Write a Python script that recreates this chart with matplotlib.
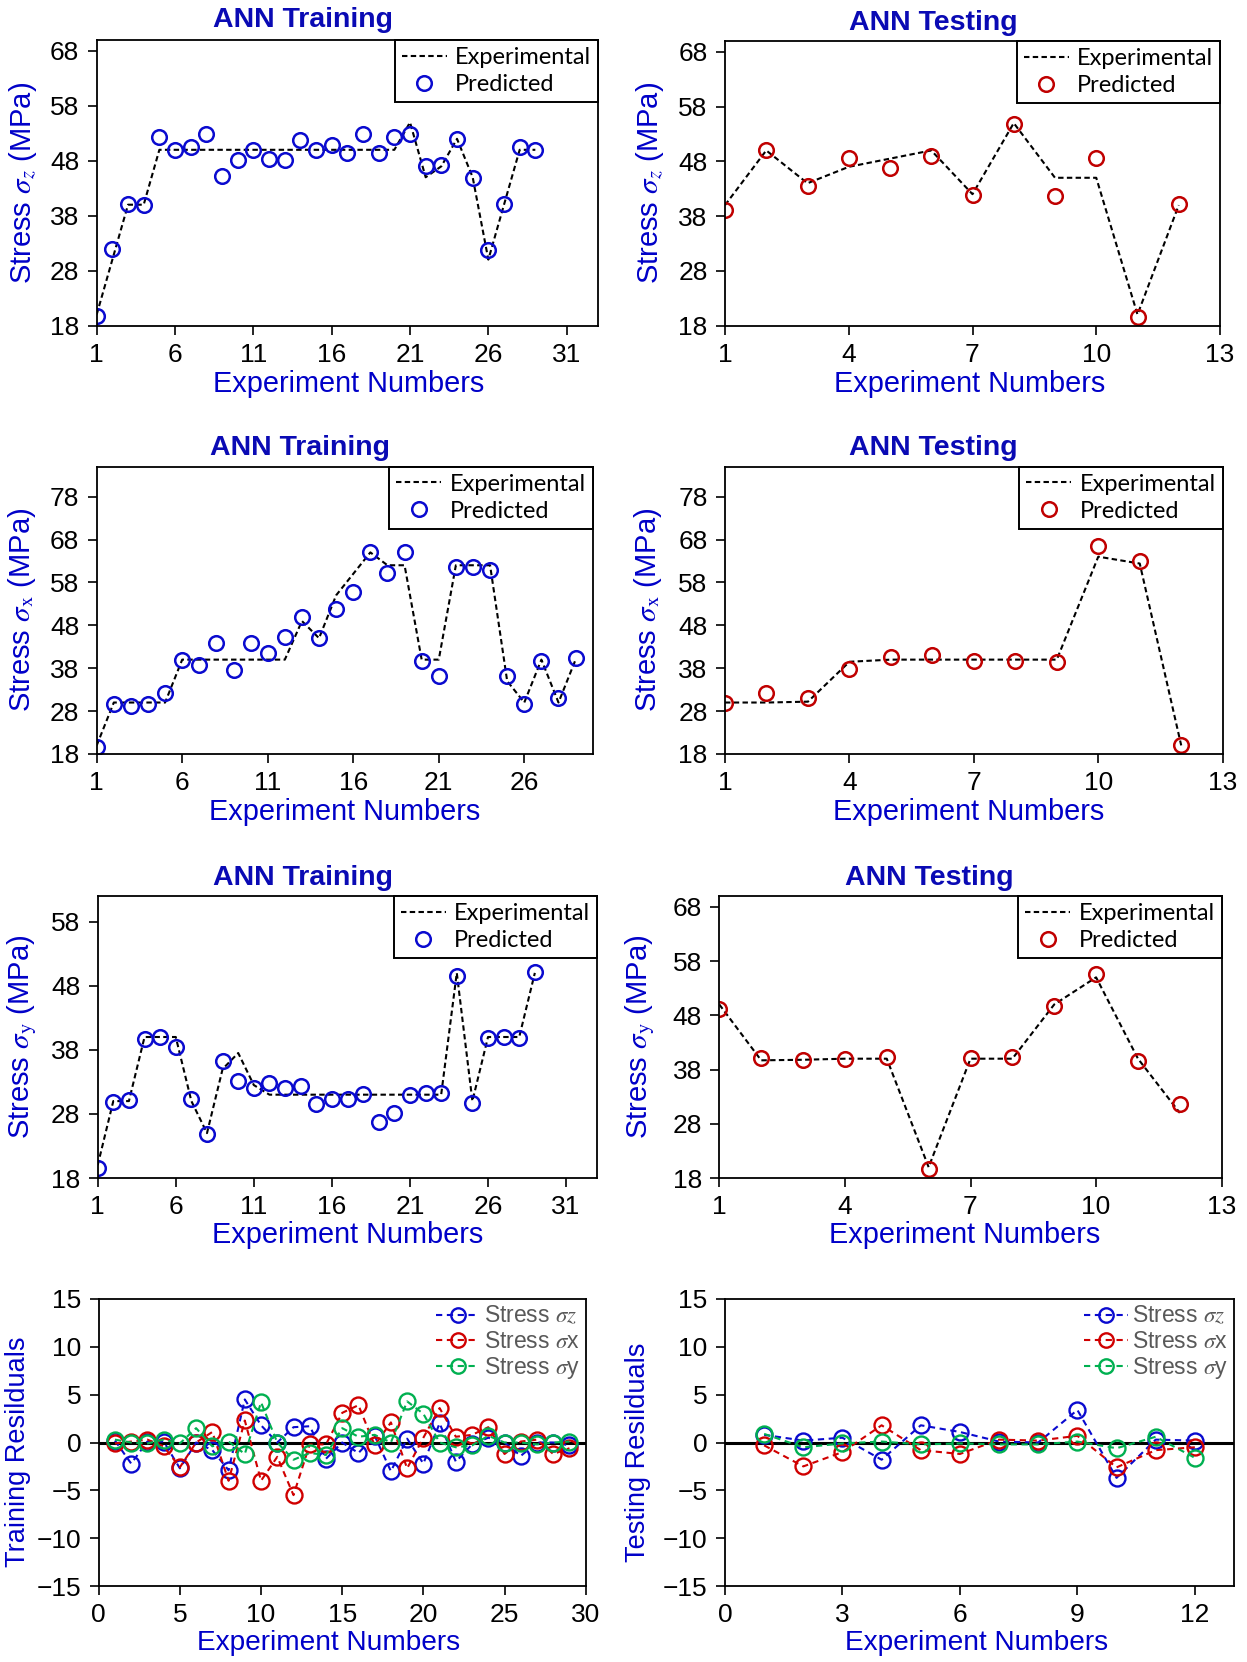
import matplotlib
matplotlib.use("Agg")
import matplotlib.pyplot as plt

plt.rcParams['font.family'] = ['Liberation Sans', 'DejaVu Sans']
plt.rcParams['mathtext.fontset'] = 'stix'

# ---------------- data ----------------
train_x = list(range(1, 30))
test_x = list(range(1, 13))

# sigma_z
train_sz_exp = [20, 30, 40, 40, 50, 50, 50, 50, 50, 50, 50, 50, 50, 50, 50,
                50, 50, 50, 50, 50, 55, 45, 47, 52, 45, 30, 40, 50, 50]
train_sz_pred = [19.8, 31.9, 40.2, 39.9, 52.3, 50.0, 50.5, 52.9, 45.2, 48.1,
                 49.9, 48.3, 48.1, 51.7, 49.9, 50.9, 49.4, 52.9, 49.4, 52.3,
                 52.9, 47.1, 47.3, 52.0, 44.9, 31.7, 40.2, 50.5, 50.0]
test_sz_exp = [40, 50, 44, 47, 48.5, 50, 42, 55, 45, 45, 20, 40]
test_sz_pred = [39.2, 50.0, 43.5, 48.6, 46.8, 48.9, 41.9, 54.8, 41.7, 48.7, 19.6, 40.2]

# sigma_x
train_sx_exp = [20, 30, 30, 30, 30, 40, 40, 40, 40, 40, 40, 40, 49, 45, 55,
                60, 65, 62, 62, 40, 40, 62, 62, 62, 35, 30, 40, 30, 40]
train_sx_pred = [19.7, 29.7, 29.3, 29.7, 32.3, 39.8, 38.8, 43.9, 37.6, 43.9,
                 41.5, 45.3, 50.0, 45.1, 51.7, 55.8, 65.0, 60.1, 65.1, 39.7,
                 36.3, 61.6, 61.6, 60.9, 36.3, 29.7, 39.7, 31.1, 40.4]
test_sx_exp = [30, 30, 30.2, 39.5, 40, 40, 40, 40, 40, 64, 62.4, 20]
test_sx_pred = [29.8, 32.2, 31.0, 37.7, 40.6, 41.0, 39.6, 39.6, 39.4, 66.6, 63.1, 20.2]

# sigma_y
train_sy_exp = [20, 30, 30, 40, 40, 40, 30, 25, 35, 37.5, 32.5, 31, 31, 31, 31,
                31, 31, 31, 31, 31, 31, 31, 31, 50, 30, 40, 40, 40, 50]
train_sy_pred = [19.5, 29.8, 30.1, 39.7, 40.0, 38.4, 30.3, 24.8, 36.2, 33.2,
                 32.1, 32.9, 32.0, 32.4, 29.5, 30.4, 30.3, 31.1, 26.7, 28.1,
                 31.0, 31.2, 31.2, 49.5, 29.7, 39.9, 40.0, 39.9, 50.1]
test_sy_exp = [50, 39.7, 39.8, 40, 40, 20, 40, 40, 50, 55, 40, 30]
test_sy_pred = [49.1, 40.2, 39.8, 40.0, 40.4, 19.7, 40.2, 40.3, 49.7, 55.7, 39.6, 31.7]

# residuals
train_res_z = [0.2, -2.2, 0.1, 0.1, -2.7, 0.0, -0.8, -2.9, 4.5, 1.8, 0.0, 1.6,
               1.7, -1.7, 0.0, -1.1, 0.7, -3.0, 0.4, -2.2, 2.0, -2.0, -0.2, 0.5,
               0.0, -1.4, 0.0, 0.0, -0.3]
train_res_x = [-0.1, 0.1, 0.3, -0.4, -2.6, 0.0, 1.1, -4.0, 2.3, -4.0, -1.5, -5.5,
               -0.2, -0.2, 3.1, 3.9, -0.3, 2.1, -2.7, 0.5, 3.6, 0.6, 0.8, 1.6,
               -1.2, 0.1, 0.3, -1.2, -0.6]
train_res_y = [0.3, 0.0, -0.1, 0.3, -0.1, 1.5, -0.4, 0.1, -1.2, 4.2, 0.0, -1.8,
               -1.1, -1.3, 1.5, 0.6, 0.8, 0.0, 4.3, 3.0, 0.0, -0.5, -0.3, 0.7,
               0.0, 0.0, -0.2, 0.0, 0.1]
test_res_z = [0.8, 0.2, 0.5, -1.8, 1.8, 1.1, 0.1, 0.0, 3.4, -3.7, 0.3, 0.2]
test_res_x = [-0.3, -2.5, -1.0, 1.8, -0.8, -1.2, 0.3, 0.2, 0.7, -2.6, -0.8, -0.5]
test_res_y = [0.9, -0.5, -0.1, 0.1, -0.2, -0.1, -0.2, -0.2, 0.1, -0.6, 0.6, -1.6]

res_labels = [r'Stress $\sigma z$', r'Stress $\sigma$x', r'Stress $\sigma$y']

# ---------------- styling ----------------
W, H = 1247, 1662
LABEL_BLUE = '#0000C8'
TITLE_BLUE = '#0A0AB4'
MARK_BLUE = '#0A0ACF'
MARK_RED = '#C00000'
RES_COLORS = ['#0A0ACF', '#D00000', '#00B050']

fig = plt.figure(figsize=(W / 100, H / 100), dpi=100)


def px_rect(left, right, top, bottom):
    return [left / W, 1 - bottom / H, (right - left) / W, (bottom - top) / H]


def ftext(x, y, s, **kw):
    fig.text(x / W, 1 - y / H, s, ha='center', va='center', **kw)


def style_axes(ax, labelsize=19):
    for sp in ax.spines.values():
        sp.set_linewidth(1.3)
        sp.set_color('black')
    ax.tick_params(direction='out', length=6.5, width=1.2, labelsize=labelsize,
                   pad=6, colors='black')


def stress_panel(box, x, exp, pred, color, xlim, xticks, ylim, yticks,
                 title, title_xy, ylabel, ylabel_xy, xlabel_xy):
    ax = fig.add_axes(px_rect(*box))
    ax.plot(x, exp, color='black', lw=1.5, dashes=(2.6, 1.6), label='Experimental')
    ax.plot(x, pred, ls='none', marker='o', ms=10.5, mfc='none', mec=color,
            mew=1.8, label='Predicted')
    ax.set_xlim(*xlim)
    ax.set_ylim(*ylim)
    ax.set_xticks(xticks)
    ax.set_yticks(yticks)
    style_axes(ax)
    leg = ax.legend(loc='upper right', borderaxespad=0, fancybox=False,
                    edgecolor='black', framealpha=1,
                    prop={'family': 'Lato', 'size': 17},
                    handlelength=1.9, handletextpad=0.35, borderpad=0.3,
                    labelspacing=0.25)
    leg.get_frame().set_linewidth(1.4)
    ftext(*title_xy, title, fontsize=20.5, fontweight='bold', color=TITLE_BLUE)
    ftext(*ylabel_xy, ylabel, fontsize=21, color=LABEL_BLUE, rotation=90)
    ftext(*xlabel_xy, 'Experiment Numbers', fontsize=20.8, color=LABEL_BLUE)
    return ax


def resid_panel(box, x, series, xlim, xticks, ylabel, ylabel_xy, xlabel_xy):
    ax = fig.add_axes(px_rect(*box))
    ax.axhline(0, color='black', lw=2.2, zorder=1)
    for vals, c, lab in zip(series, RES_COLORS, res_labels):
        ax.plot(x, vals, color=c, lw=1.5, dashes=(3, 2.2), marker='o', ms=11.5,
                mfc='none', mec=c, mew=1.7, label=lab, zorder=3)
    ax.set_xlim(*xlim)
    ax.set_ylim(-15, 15)
    ax.set_xticks(xticks)
    ax.set_yticks(range(-15, 16, 5))
    style_axes(ax)
    ax.legend(loc='upper right', frameon=False, prop={'size': 16.5},
              labelcolor='#595959', handlelength=1.9, handletextpad=0.2,
              labelspacing=0.1, borderaxespad=0.1, borderpad=0.15,
              markerscale=0.9)
    ftext(*ylabel_xy, ylabel, fontsize=19.5, color=LABEL_BLUE, rotation=90)
    ftext(*xlabel_xy, 'Experiment Numbers', fontsize=20.2, color=LABEL_BLUE)
    return ax


train_ticks31 = list(range(1, 32, 5))
train_ticks26 = list(range(1, 27, 5))
test_ticks = list(range(1, 14, 3))

# row 1: sigma_z
stress_panel((96.7, 598, 40, 325.5), train_x, train_sz_exp, train_sz_pred, MARK_BLUE,
             (1, 33), train_ticks31, (18, 70), range(18, 69, 10),
             'ANN Training', (303, 20), r'Stress $\sigma_z$ (MPa)', (23, 183), (349, 384))
stress_panel((725, 1220, 41, 325.5), test_x, test_sz_exp, test_sz_pred, MARK_RED,
             (1, 13), test_ticks, (18, 70), range(18, 69, 10),
             'ANN Testing', (933, 23), r'Stress $\sigma_z$ (MPa)', (650, 183), (970, 384))

# row 2: sigma_x
stress_panel((96.7, 592.7, 466.6, 754), train_x, train_sx_exp, train_sx_pred, MARK_BLUE,
             (1, 30), train_ticks26, (18, 85), range(18, 79, 10),
             'ANN Training', (300, 448), r'Stress $\sigma_\mathrm{x}$ (MPa)', (22, 610), (345, 812))
stress_panel((725, 1222.7, 466.6, 754), test_x, test_sx_exp, test_sx_pred, MARK_RED,
             (1, 13), test_ticks, (18, 85), range(18, 79, 10),
             'ANN Testing', (933, 448), r'Stress $\sigma_\mathrm{x}$ (MPa)', (648, 610), (969, 812))

# row 3: sigma_y
stress_panel((97.7, 597.3, 896, 1178), train_x, train_sy_exp, train_sy_pred, MARK_BLUE,
             (1, 33), train_ticks31, (18, 62), range(18, 59, 10),
             'ANN Training', (303, 878), r'Stress $\sigma_\mathrm{y}$ (MPa)', (22, 1037), (348, 1235))
stress_panel((719.3, 1221.7, 896, 1178), test_x, test_sy_exp, test_sy_pred, MARK_RED,
             (1, 13), test_ticks, (18, 70), range(18, 69, 10),
             'ANN Testing', (929, 878), r'Stress $\sigma_\mathrm{y}$ (MPa)', (640, 1037), (965, 1235))

# row 4: residuals
resid_panel((98.7, 585.7, 1299, 1586), train_x, [train_res_z, train_res_x, train_res_y],
            (0, 30), list(range(0, 31, 5)), 'Training Resilduals', (18, 1452), (329, 1643))
resid_panel((725, 1234, 1299, 1586), test_x, [test_res_z, test_res_x, test_res_y],
            (0, 13), list(range(0, 13, 3)), 'Testing Resilduals', (638, 1452), (977, 1643))

fig.savefig('out.png', dpi=100)
